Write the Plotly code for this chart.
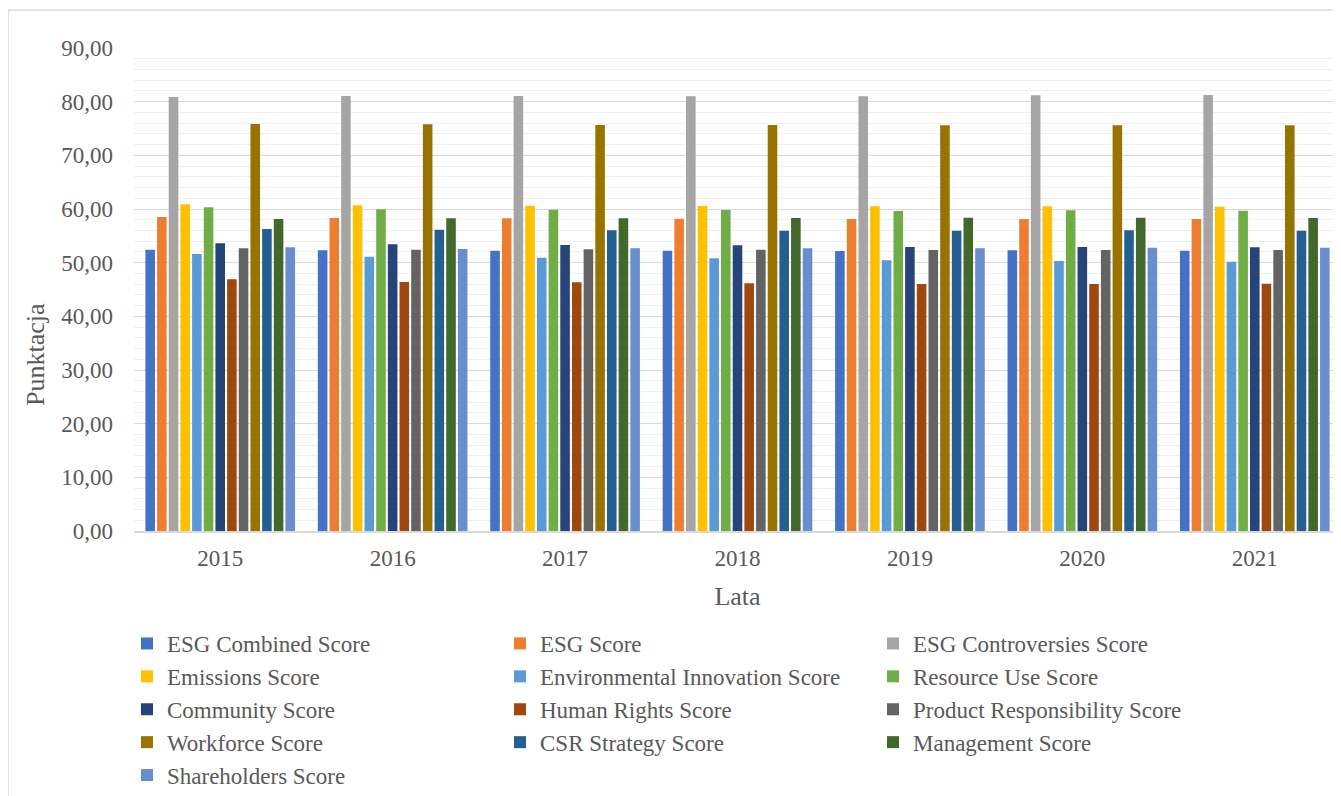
import plotly.graph_objects as go

years = ["2015", "2016", "2017", "2018", "2019", "2020", "2021"]

series_names = [
    "ESG Combined Score", "ESG Score", "ESG Controversies Score",
    "Emissions Score", "Environmental Innovation Score", "Resource Use Score",
    "Community Score", "Human Rights Score", "Product Responsibility Score",
    "Workforce Score", "CSR Strategy Score", "Management Score",
    "Shareholders Score",
]

esg_combined = [52.42, 52.30, 52.24, 52.24, 52.17, 52.30, 52.24]
esg_score = [58.51, 58.32, 58.26, 58.20, 58.14, 58.14, 58.14]
esg_controversies = [80.87, 81.06, 81.06, 80.99, 80.99, 81.18, 81.24]
emissions = [60.87, 60.68, 60.62, 60.56, 60.50, 60.50, 60.43]
env_innovation = [51.61, 51.12, 50.93, 50.81, 50.43, 50.31, 50.19]
resource_use = [60.31, 59.94, 59.88, 59.81, 59.63, 59.75, 59.69]
community = [53.60, 53.42, 53.29, 53.23, 52.92, 52.92, 52.86]
human_rights = [46.89, 46.40, 46.34, 46.15, 46.02, 46.02, 46.09]
product_resp = [52.67, 52.42, 52.48, 52.42, 52.36, 52.36, 52.36]
workforce = [75.84, 75.78, 75.65, 75.65, 75.59, 75.59, 75.59]
csr_strategy = [56.27, 56.15, 56.02, 55.96, 55.96, 56.02, 55.96]
management = [58.14, 58.26, 58.26, 58.32, 58.39, 58.39, 58.32]
shareholders = [52.86, 52.55, 52.67, 52.67, 52.67, 52.80, 52.80]

series_values = [
    esg_combined, esg_score, esg_controversies, emissions, env_innovation,
    resource_use, community, human_rights, product_resp, workforce,
    csr_strategy, management, shareholders,
]

colors = [
    "#4472C4", "#ED7D31", "#A5A5A5", "#FFC000", "#5B9BD5", "#70AD47",
    "#264478", "#9E480E", "#636363", "#997300", "#255E91", "#43682B",
    "#698ED0",
]

FONT = "Liberation Serif, Times New Roman, serif"
TXT = "#595959"

fig = go.Figure()
for name, vals, col in zip(series_names, series_values, colors):
    fig.add_trace(go.Bar(
        name=name, x=years, y=vals,
        marker=dict(color=col, line=dict(width=0)),
    ))

# page offset of the figure (default body margin)
OFF = 8
W, H = 1333, 788
ml, mr, mt, mb = 134 - OFF, 0, 48 - OFF, H - (531 - OFF)
pw, ph = W - ml - mr, H - mt - mb

def px_x(p):
    return (p - OFF - ml) / pw

def px_y(p):
    return (H - mb - (p - OFF)) / ph

fig.update_layout(
    width=W, height=H,
    margin=dict(l=ml, r=mr, t=mt, b=mb, autoexpand=False),
    paper_bgcolor="white", plot_bgcolor="white",
    barmode="group", bargap=0.12, bargroupgap=0.18,
    separators=", ",
    font=dict(family=FONT, size=23, color=TXT),
    showlegend=True,
    legend=dict(
        orientation="h",
        x=px_x(127), xanchor="left",
        y=px_y(622), yanchor="top",
        entrywidth=328, entrywidthmode="pixels",
        itemwidth=30,
        font=dict(family=FONT, size=23, color=TXT),
        bgcolor="rgba(0,0,0,0)",
        traceorder="normal",
    ),
    xaxis=dict(
        type="category",
        showgrid=False,
        showline=True, linecolor="#D9D9D9", linewidth=2,
        ticks="", ticklabelstandoff=5,
        tickfont=dict(family=FONT, size=23, color=TXT),
        title=dict(text="Lata", standoff=17,
                   font=dict(family=FONT, size=26, color=TXT)),
        automargin=False,
    ),
    yaxis=dict(
        range=[0, 90], dtick=10, tick0=0,
        tickformat=".2f",
        showgrid=True, gridcolor="#D9D9D9", gridwidth=1,
        minor=dict(dtick=2, showgrid=True, gridcolor="#F0F0F0", gridwidth=1),
        zeroline=False, showline=False,
        ticks="", ticklabelstandoff=20,
        tickfont=dict(family=FONT, size=23, color=TXT),
        automargin=False,
    ),
    annotations=[dict(
        text="Punktacja", textangle=-90,
        xref="paper", yref="paper",
        x=px_x(35), y=px_y(355), xanchor="center", yanchor="middle",
        showarrow=False,
        font=dict(family=FONT, size=26, color=TXT),
    )],
    shapes=[dict(
        type="rect", xref="paper", yref="paper",
        x0=px_x(8), x1=1.05, y0=px_y(830), y1=px_y(10),
        line=dict(color="#D9D9D9", width=1.5), fillcolor="rgba(0,0,0,0)",
        layer="below",
    )],
)

fig.write_html("out.html")
